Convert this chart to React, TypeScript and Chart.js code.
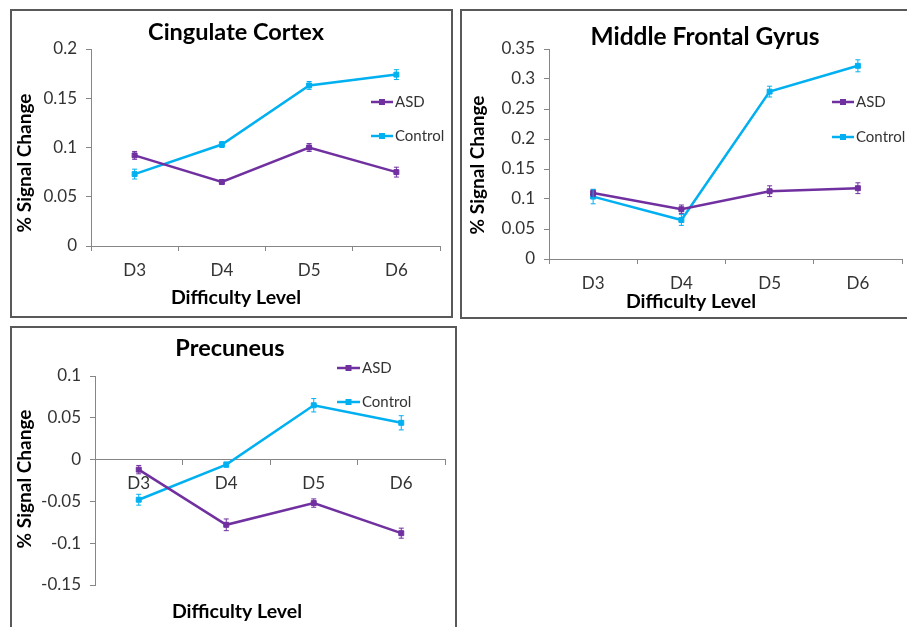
import React, { useEffect, useRef } from 'react';
import { Chart, registerables } from 'chart.js';

Chart.register(...registerables);

// ---------- DATA ----------
const categories = ['D3', 'D4', 'D5', 'D6'];
const seriesNames = ['ASD', 'Control'];

const cingulateTitle = 'Cingulate Cortex';
const cingulateASD = [0.092, 0.065, 0.1, 0.075];
const cingulateASDErr = [0.004, 0.002, 0.004, 0.005];
const cingulateControl = [0.073, 0.103, 0.163, 0.174];
const cingulateControlErr = [0.005, 0.003, 0.004, 0.005];
const cingulateTicks = [0, 0.05, 0.1, 0.15, 0.2];

const mfgTitle = 'Middle Frontal Gyrus';
const mfgASD = [0.11, 0.083, 0.113, 0.118];
const mfgASDErr = [0.006, 0.007, 0.009, 0.009];
const mfgControl = [0.104, 0.065, 0.279, 0.322];
const mfgControlErr = [0.012, 0.009, 0.009, 0.01];
const mfgTicks = [0, 0.05, 0.1, 0.15, 0.2, 0.25, 0.3, 0.35];

const precTitle = 'Precuneus';
const precASD = [-0.012, -0.078, -0.052, -0.088];
const precASDErr = [0.005, 0.007, 0.005, 0.006];
const precControl = [-0.048, -0.006, 0.065, 0.044];
const precControlErr = [0.0065, 0.003, 0.008, 0.0085];
const precTicks = [-0.15, -0.1, -0.05, 0, 0.05, 0.1];

const yAxisTitle = '% Signal Change';
const xAxisTitle = 'Difficulty Level';

// ---------- STYLE ----------
const COLORS = ['#7030A0', '#00B0F0'];
const AXIS = '#868686';
const TEXT = '#333333';
const FONT = 'Lato, "Open Sans", sans-serif';

type Layout = {
  left: number; top: number; width: number; height: number;
  boxW: number; boxH: number;
  pad: { left: number; top: number; right: number; bottom: number };
  yWidth: number; xHeight: number; xAtZero: boolean;
  titleSize: number;
  titlePos: [number, number];
  yTitlePos: [number, number];
  xTitlePos: [number, number];
  legend: { x0: number; x1: number; ys: number[] };
};

type PanelData = {
  title: string;
  values: number[][];
  errors: number[][];
  ticks: number[];
};

const fmt = (v: number) => {
  const s = String(Number(v.toFixed(2)));
  return s === '-0' ? '0' : s;
};

function Panel({ data, layout }: { data: PanelData; layout: Layout }) {
  const ref = useRef<HTMLCanvasElement | null>(null);
  useEffect(() => {
    const canvas = ref.current;
    if (!canvas) return;

    const errorBars = {
      id: 'errorBars',
      afterDatasetsDraw(chart: any) {
        const ctx = chart.ctx;
        const ys = chart.scales.y;
        chart.data.datasets.forEach((ds: any, i: number) => {
          const meta = chart.getDatasetMeta(i);
          const errs = data.errors[i];
          ctx.save();
          ctx.strokeStyle = COLORS[i];
          ctx.lineWidth = 1;
          meta.data.forEach((pt: any, j: number) => {
            const v = ds.data[j];
            const e = errs[j];
            const yt = ys.getPixelForValue(v + e);
            const yb = ys.getPixelForValue(v - e);
            const x = pt.x;
            ctx.beginPath();
            ctx.moveTo(x, yt); ctx.lineTo(x, yb);
            ctx.moveTo(x - 2.5, yt); ctx.lineTo(x + 2.5, yt);
            ctx.moveTo(x - 2.5, yb); ctx.lineTo(x + 2.5, yb);
            ctx.stroke();
          });
          ctx.restore();
        });
      },
    };

    const texts = {
      id: 'panelTexts',
      afterDraw(chart: any) {
        const ctx = chart.ctx;
        ctx.save();
        // title
        ctx.fillStyle = '#000';
        ctx.font = `bold ${layout.titleSize}px ${FONT}`;
        ctx.textAlign = 'center';
        ctx.textBaseline = 'alphabetic';
        ctx.fillText(data.title, layout.titlePos[0], layout.titlePos[1]);
        // x title
        ctx.font = `bold 19.5px ${FONT}`;
        ctx.fillText(xAxisTitle, layout.xTitlePos[0], layout.xTitlePos[1]);
        // y title
        ctx.save();
        ctx.translate(layout.yTitlePos[0], layout.yTitlePos[1]);
        ctx.rotate(-Math.PI / 2);
        ctx.textBaseline = 'middle';
        ctx.font = `bold 19px ${FONT}`;
        ctx.fillText(yAxisTitle, 0, 0);
        ctx.restore();
        // legend
        const lg = layout.legend;
        seriesNames.forEach((name, i) => {
          const y = lg.ys[i];
          ctx.strokeStyle = COLORS[i];
          ctx.lineWidth = 2.5;
          ctx.beginPath();
          ctx.moveTo(lg.x0, y); ctx.lineTo(lg.x1, y);
          ctx.stroke();
          ctx.fillStyle = COLORS[i];
          const mx = (lg.x0 + lg.x1) / 2;
          ctx.fillRect(mx - 3, y - 3, 6, 6);
          ctx.fillStyle = TEXT;
          ctx.font = `15px ${FONT}`;
          ctx.textAlign = 'left';
          ctx.textBaseline = 'middle';
          ctx.fillText(name, lg.x1 + 2, y);
        });
        ctx.restore();
      },
    };

    const chart = new Chart(canvas, {
      type: 'line',
      data: {
        labels: categories,
        datasets: seriesNames.map((name, i) => ({
          label: name,
          data: data.values[i],
          borderColor: COLORS[i],
          backgroundColor: COLORS[i],
          borderWidth: 2.5,
          pointStyle: 'rect',
          pointRadius: 3.5,
          pointBorderWidth: 1,
          tension: 0,
        })),
      },
      options: {
        animation: false,
        responsive: false,
        devicePixelRatio: 1,
        layout: { padding: layout.pad },
        plugins: {
          legend: { display: false },
          title: { display: false },
          tooltip: { enabled: false },
        },
        scales: {
          x: {
            type: 'category',
            position: layout.xAtZero ? { y: 0 } : 'bottom',
            offset: true,
            grid: { offset: true, drawOnChartArea: false, tickLength: 5, color: AXIS, lineWidth: 1 },
            border: { display: true, color: AXIS, width: 1 },
            ticks: { color: TEXT, font: { family: FONT, size: 17 }, padding: 9, maxRotation: 0 },
            afterFit: (s: any) => { if (!layout.xAtZero) s.height = layout.xHeight; },
          } as any,
          y: {
            min: data.ticks[0],
            max: data.ticks[data.ticks.length - 1],
            grid: { drawOnChartArea: false, tickLength: 5, color: AXIS, lineWidth: 1 },
            border: { display: true, color: AXIS, width: 1 },
            ticks: {
              color: TEXT,
              font: { family: FONT, size: 17 },
              padding: 9,
              callback: (v: any) => fmt(Number(v)),
            },
            afterBuildTicks: (s: any) => { s.ticks = data.ticks.map((v) => ({ value: v })); },
            afterFit: (s: any) => { s.width = layout.yWidth; },
          } as any,
        },
      },
      plugins: [errorBars, texts],
    });
    return () => chart.destroy();
  }, []);

  return (
    <>
      <div
        style={{
          position: 'absolute', left: layout.left, top: layout.top,
          width: layout.boxW, height: layout.boxH,
          border: '2px solid #595959', boxSizing: 'border-box',
        }}
      />
      <canvas
        ref={ref}
        width={layout.width}
        height={layout.height}
        style={{ position: 'absolute', left: layout.left, top: layout.top, width: layout.width, height: layout.height }}
      />
    </>
  );
}

const panels: { data: PanelData; layout: Layout }[] = [
  {
    data: {
      title: cingulateTitle,
      values: [cingulateASD, cingulateControl],
      errors: [cingulateASDErr, cingulateControlErr],
      ticks: cingulateTicks,
    },
    layout: {
      left: 10, top: 9, width: 442, height: 308, boxW: 443, boxH: 309,
      pad: { left: 0, top: 40, right: 12, bottom: 0 },
      yWidth: 81, xHeight: 71, xAtZero: false,
      titleSize: 23.5,
      titlePos: [226, 31],
      yTitlePos: [15, 154],
      xTitlePos: [226, 295],
      legend: { x0: 361, x1: 383, ys: [93, 127] },
    },
  },
  {
    data: {
      title: mfgTitle,
      values: [mfgASD, mfgControl],
      errors: [mfgASDErr, mfgControlErr],
      ticks: mfgTicks,
    },
    layout: {
      left: 460, top: 9, width: 447, height: 309, boxW: 460, boxH: 310,
      pad: { left: 0, top: 40, right: 4, bottom: 0 },
      yWidth: 89, xHeight: 59, xAtZero: false,
      titleSize: 24.5,
      titlePos: [245, 36],
      yTitlePos: [18, 156],
      xTitlePos: [231, 299],
      legend: { x0: 372, x1: 394, ys: [93, 128] },
    },
  },
  {
    data: {
      title: precTitle,
      values: [precASD, precControl],
      errors: [precASDErr, precControlErr],
      ticks: precTicks,
    },
    layout: {
      left: 10, top: 326, width: 446, height: 301, boxW: 447, boxH: 320,
      pad: { left: 0, top: 50, right: 11, bottom: 42 },
      yWidth: 85, xHeight: 0, xAtZero: true,
      titleSize: 23.5,
      titlePos: [220, 30],
      yTitlePos: [15, 153],
      xTitlePos: [227, 292],
      legend: { x0: 327, x1: 350, ys: [42, 76] },
    },
  },
];

export default function App() {
  return (
    <div style={{ position: 'fixed', left: 0, top: 0, width: 907, height: 627, overflow: 'hidden', background: '#fff' }}>
      {panels.map((p, i) => (
        <Panel key={i} data={p.data} layout={p.layout} />
      ))}
    </div>
  );
}
